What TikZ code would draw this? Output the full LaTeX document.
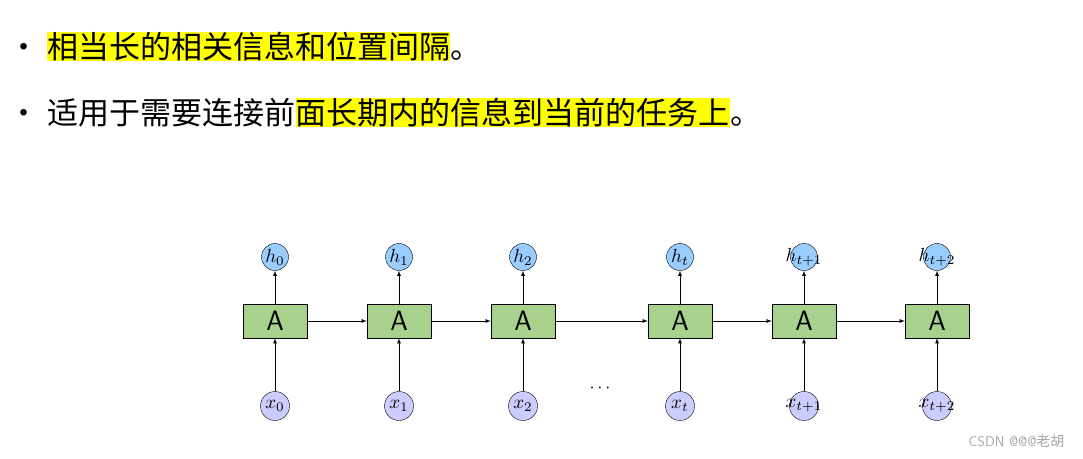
\documentclass[tikz,border=0pt]{standalone}
\usepackage{fontspec}
\usepackage{graphicx}
\newfontfamily\cjk{Noto Sans CJK SC}
\usetikzlibrary{positioning}
\definecolor{cellgreen}{RGB}{169,209,142}
\definecolor{hblue}{RGB}{153,204,255}
\definecolor{xpurple}{RGB}{204,204,255}
\definecolor{hilite}{RGB}{255,255,0}
\newcommand{\lbl}[1]{\makebox[0pt]{\scalebox{1.9}{$#1$}}}
\tikzset{
  cell/.style={draw, fill=cellgreen, minimum width=64pt, minimum height=34pt, inner sep=0pt, font=\fontsize{28}{28}\selectfont\sffamily},
  hnode/.style={draw, circle, fill=hblue, minimum size=27pt, inner sep=0pt},
  xnode/.style={draw, circle, fill=xpurple, minimum size=29pt, inner sep=0pt},
  txt/.style={inner sep=0pt, anchor=base west, font=\cjk\fontsize{31}{34}\selectfont},
  hltxt/.style={txt, fill=hilite},
  link/.style={-latex, thick}
}
\begin{document}
\begin{tikzpicture}[x=1pt, y=-1pt]
\useasboundingbox (0,0) rectangle (1083,458);

%% Bullets
\node[txt] (b1) at (8,58) {•};
\node[hltxt] (l1a) at (47,58) {相当长的相关信息和位置间隔};
\node[txt, right=0pt of l1a.base east, anchor=base west] (l1b) {。};
\node[txt] (b2) at (8,124) {•};
\node[txt] (l2a) at (47,124) {适用于需要连接前};
\node[hltxt, right=0pt of l2a.base east, anchor=base west] (l2b) {面长期内的信息到当前的任务上};
\node[txt, right=0pt of l2b.base east, anchor=base west] (l2c) {。};

%% Cells
\foreach \n/\px/\hl/\xl in {0/275/h_0/x_0, 1/399/h_1/x_1, 2/523/h_2/x_2,
  t/680/h_t/x_t, u/804/h_{t+1}/x_{t+1}, v/937/h_{t+2}/x_{t+2}} {
  \node[cell] (A\n) at (\px,321) {A};
  \node[hnode] (h\n) at (\px,257) {\lbl{\hl}};
  \node[xnode] (x\n) at (\px,406) {\lbl{\xl}};
  \draw[link] (A\n) -- (h\n);
  \draw[link] (x\n) -- (A\n);
}

% recurrent links
\draw[link] (A0) -- (A1);
\draw[link] (A1) -- (A2);
\draw[link] (A2) -- (At);
\draw[link] (At) -- (Au);
\draw[link] (Au) -- (Av);
\node (dots) at (600,388) {\scalebox{1.8}{$\cdots$}};

% watermark
\node[anchor=east, text=gray!70, font=\fontsize{14}{14}\selectfont\sffamily] (wm) at (1068,441) {CSDN @@@{\cjk 老胡}};
\end{tikzpicture}
\end{document}
